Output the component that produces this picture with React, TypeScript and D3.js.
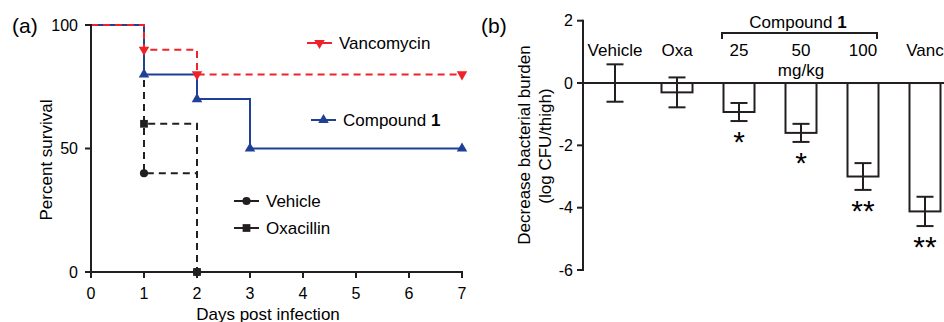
import React from 'react';
import * as d3 from 'd3';

// panel (a): survival
const dayTicks = [0, 1, 2, 3, 4, 5, 6, 7];
const survivalTicks = [0, 50, 100];

const vancoDays = [0, 1, 2, 7];
const vancoSurvival = [100, 90, 80, 80];
const compoundDays = [0, 1, 2, 3, 7];
const compoundSurvival = [100, 80, 70, 50, 50];
const vehicleDays = [0, 1, 2];
const vehicleSurvival = [100, 40, 0];
const oxaDays = [0, 1, 2];
const oxaSurvival = [100, 60, 0];

// panel (b): bacterial burden
const groups = ['Vehicle', 'Oxa', '25', '50', '100', 'Vanc'];
const burden = [0, -0.3, -0.93, -1.6, -3.0, -4.12];
const burdenErr = [0.6, 0.48, 0.29, 0.29, 0.43, 0.47];
const stars = ['', '', '*', '*', '**', '**'];
const burdenTicks = [2, 0, -2, -4, -6];

const RED = '#ee2229';
const BLUE = '#1f3f98';
const BLACK = '#231f20';
const font = 'Liberation Sans, Arial, sans-serif';

const xA = d3.scaleLinear().domain([0, 7]).range([91, 462]);
const yA = d3.scaleLinear().domain([0, 100]).range([272, 25]);
const stepLine = d3.line<[number, number]>()
  .x(d => xA(d[0]))
  .y(d => yA(d[1]))
  .curve(d3.curveStepAfter);

const xB = d3.scalePoint<string>().domain(groups).range([615, 925]);
const yB = d3.scaleLinear().domain([-6, 2]).range([270, 20.7]);
const barW = 31;

const tri = d3.symbol().type(d3.symbolTriangle).size(48)();
const sq = d3.symbol().type(d3.symbolSquare).size(60)();
const circ = d3.symbol().type(d3.symbolCircle).size(52)();

const zip = (a: number[], b: number[]) => a.map((d, i) => [d, b[i]] as [number, number]);

const series = [
  { name: 'Vehicle', days: vehicleDays, surv: vehicleSurvival, color: BLACK, dash: '7,5', marker: circ, rot: 0 },
  { name: 'Oxacillin', days: oxaDays, surv: oxaSurvival, color: BLACK, dash: '7,5', marker: sq, rot: 0 },
  { name: 'Compound 1', days: compoundDays, surv: compoundSurvival, color: BLUE, dash: 'none', marker: tri, rot: 0 },
  { name: 'Vancomycin', days: vancoDays, surv: vancoSurvival, color: RED, dash: '7,5', marker: tri, rot: 180 },
];

const legend = [
  { s: 3, x: 307, y: 43 },
  { s: 2, x: 311, y: 120 },
  { s: 0, x: 234, y: 201 },
  { s: 1, x: 234, y: 228 },
];

export default function App() {
  return (
    <div style={{ position: 'fixed', left: 0, top: 0 }}>
      <svg width={944} height={322} style={{ display: 'block', background: '#fff' }} fontFamily={font}>
        {/* ---------- panel (a) ---------- */}
        <text x={12} y={33} fontSize={21}>(a)</text>
        <g>
          {series.map(s => (
            <path key={s.name} d={stepLine(zip(s.days, s.surv)) || ''} fill="none"
              stroke={s.color} strokeWidth={2} strokeDasharray={s.dash} />
          ))}
          {series.map(s => s.days.slice(1).map((d, i) => (
            <path key={s.name + d} d={s.marker || ''} fill={s.color}
              transform={`translate(${xA(d)},${yA(s.surv[i + 1])}) rotate(${s.rot})`} />
          )))}
        </g>
        {/* axes */}
        <line x1={xA(0)} x2={xA(0)} y1={yA(100) - 1} y2={yA(0) + 1} stroke={BLACK} strokeWidth={2} />
        <line x1={xA(0) - 1} x2={xA(7) + 1} y1={yA(0)} y2={yA(0)} stroke={BLACK} strokeWidth={2} />
        {survivalTicks.map(t => (
          <g key={t}>
            <line x1={xA(0) - 6} x2={xA(0)} y1={yA(t)} y2={yA(t)} stroke={BLACK} strokeWidth={2} />
            <text x={78} y={yA(t)} dy="0.36em" textAnchor="end" fontSize={16}>{t}</text>
          </g>
        ))}
        {dayTicks.map(t => (
          <g key={t}>
            <line x1={xA(t)} x2={xA(t)} y1={yA(0)} y2={yA(0) + 6} stroke={BLACK} strokeWidth={2} />
            <text x={xA(t)} y={299} textAnchor="middle" fontSize={16}>{t}</text>
          </g>
        ))}
        <text x={268} y={320} textAnchor="middle" fontSize={17}>Days post infection</text>
        <text transform="translate(52,160) rotate(-90)" textAnchor="middle" fontSize={17}>Percent survival</text>
        {/* legend */}
        {legend.map(l => {
          const s = series[l.s];
          return (
            <g key={s.name}>
              <line x1={l.x} x2={l.x + 25} y1={l.y} y2={l.y} stroke={s.color} strokeWidth={2} />
              <path d={s.marker || ''} fill={s.color} transform={`translate(${l.x + 12.5},${l.y}) rotate(${s.rot})`} />
              <text x={l.x + 32} y={l.y} dy="0.36em" fontSize={17}>
                {s.name === 'Compound 1' ? (<>Compound <tspan fontWeight="bold">1</tspan></>) : s.name}
              </text>
            </g>
          );
        })}

        {/* ---------- panel (b) ---------- */}
        <text x={481} y={33} fontSize={21}>(b)</text>
        <line x1={583} x2={583} y1={yB(2) - 1} y2={yB(-6) + 1} stroke={BLACK} strokeWidth={2} />
        {burdenTicks.map(t => (
          <g key={t}>
            <line x1={577} x2={583} y1={yB(t)} y2={yB(t)} stroke={BLACK} strokeWidth={2} />
            <text x={573} y={yB(t)} dy="0.36em" textAnchor="end" fontSize={16}>{t}</text>
          </g>
        ))}
        <text transform="translate(530,145) rotate(-90)" textAnchor="middle" fontSize={17}>Decrease bacterial burden</text>
        <text transform="translate(551,146) rotate(-90)" textAnchor="middle" fontSize={17}>(log CFU/thigh)</text>
        {groups.map((g, i) => {
          const cx = xB(g) as number;
          const m = burden[i];
          const e = burdenErr[i];
          return (
            <g key={g}>
              {m !== 0 && (
                <rect x={cx - barW / 2} y={yB(0)} width={barW} height={yB(m) - yB(0)}
                  fill="#fff" stroke={BLACK} strokeWidth={2} />
              )}
              <line x1={cx} x2={cx} y1={yB(m + e)} y2={yB(m - e)} stroke={BLACK} strokeWidth={2} />
              <line x1={cx - 8.5} x2={cx + 8.5} y1={yB(m + e)} y2={yB(m + e)} stroke={BLACK} strokeWidth={2} />
              <line x1={cx - 8.5} x2={cx + 8.5} y1={yB(m - e)} y2={yB(m - e)} stroke={BLACK} strokeWidth={2} />
              <text x={cx} y={56} textAnchor="middle" fontSize={17}>{g}</text>
              {stars[i] && (
                <text x={cx} y={yB(m - e) + 31} textAnchor="middle" fontSize={30}>{stars[i]}</text>
              )}
            </g>
          );
        })}
        <line x1={582} x2={944} y1={yB(0)} y2={yB(0)} stroke={BLACK} strokeWidth={2} />
        {/* compound bracket */}
        <path d={`M${(xB('25') as number) - 17},39V33H${(xB('100') as number) + 14}V39`} fill="none" stroke={BLACK} strokeWidth={2} />
        <text x={798} y={28} textAnchor="middle" fontSize={17}>Compound <tspan fontWeight="bold">1</tspan></text>
        <text x={xB('50') as number} y={76} textAnchor="middle" fontSize={17}>mg/kg</text>
      </svg>
    </div>
  );
}
